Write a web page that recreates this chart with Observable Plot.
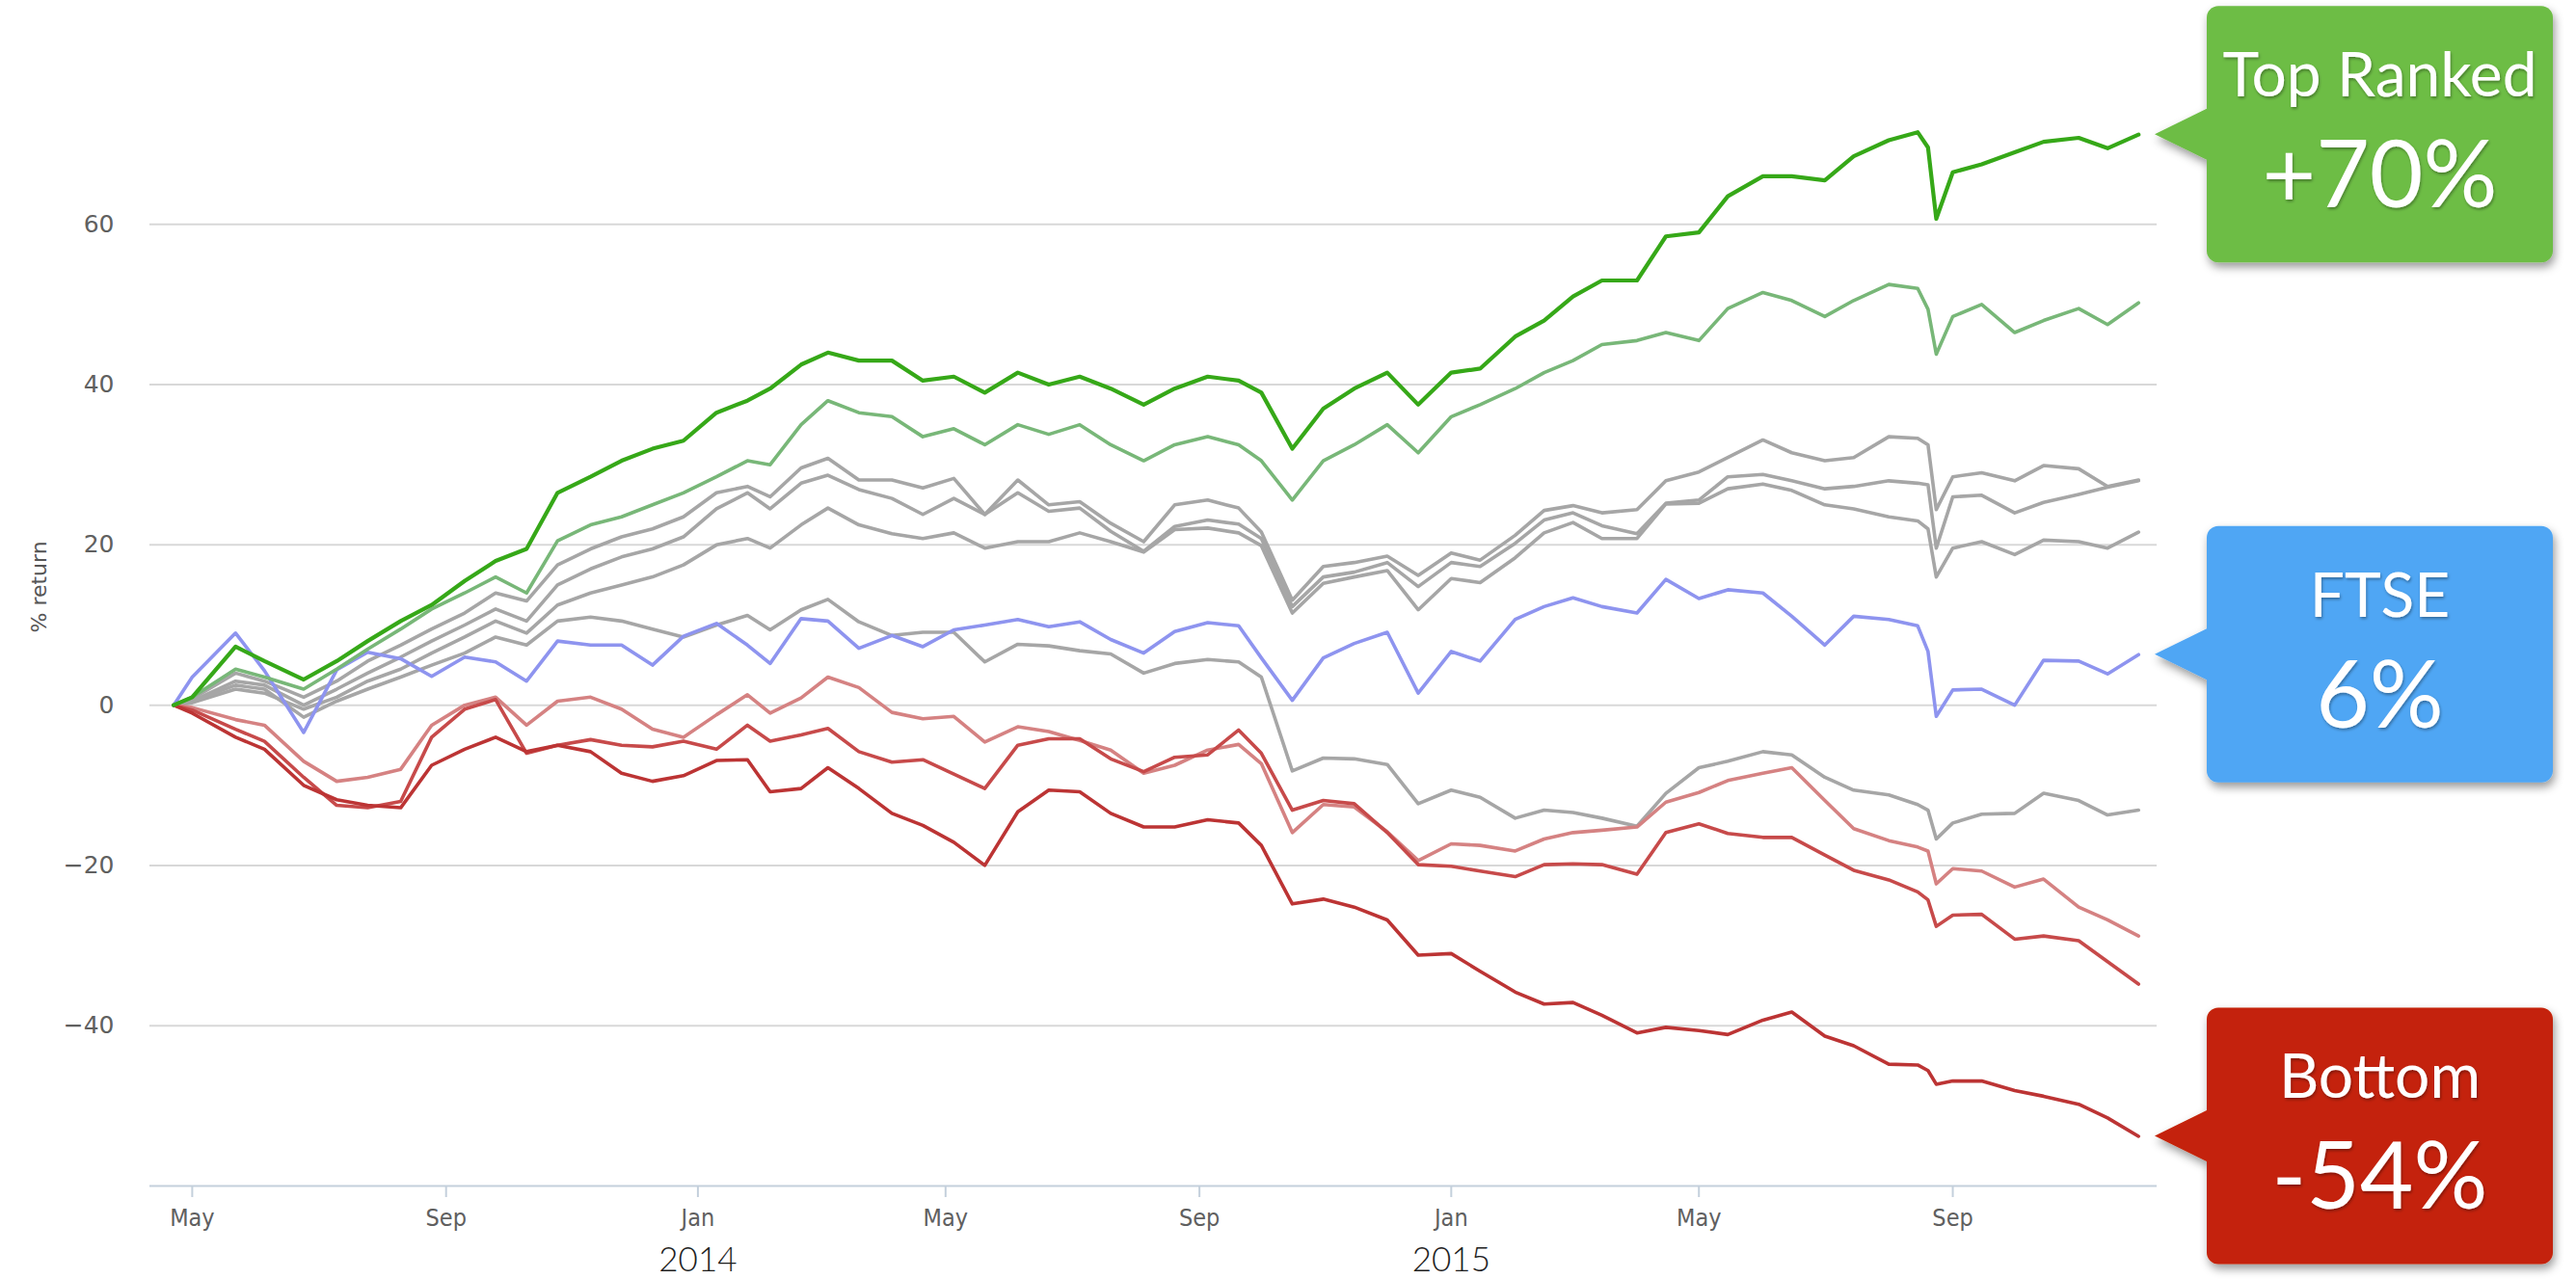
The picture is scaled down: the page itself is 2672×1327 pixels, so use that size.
<!DOCTYPE html>
<html>
<head>
<meta charset="utf-8">
<script src="https://cdn.jsdelivr.net/npm/d3@7"></script>
<script src="https://cdn.jsdelivr.net/npm/@observablehq/plot@0.6"></script>
<style>
html,body{margin:0;padding:0;background:#fff;overflow:hidden;}
#chart svg{display:block;}
</style>
</head>
<body>
<div id="chart"></div>
<script>
// ---- data ----
const dates = [
"2013-04-22","2013-05-01","2013-05-22","2013-06-05","2013-06-24","2013-07-10","2013-07-25","2013-08-10","2013-08-25","2013-09-10",
"2013-09-25","2013-10-10","2013-10-25","2013-11-10","2013-11-25","2013-12-10","2013-12-25","2014-01-10","2014-01-25","2014-02-05",
"2014-02-20","2014-03-05","2014-03-20","2014-04-05","2014-04-20","2014-05-05","2014-05-20","2014-06-05","2014-06-20","2014-07-05",
"2014-07-20","2014-08-05","2014-08-20","2014-09-05","2014-09-20","2014-10-01","2014-10-16","2014-10-31","2014-11-15","2014-12-01",
"2014-12-16","2015-01-01","2015-01-15","2015-02-01","2015-02-15","2015-03-01","2015-03-15","2015-04-01","2015-04-15","2015-05-01",
"2015-05-15","2015-06-01","2015-06-15","2015-07-01","2015-07-15","2015-08-01","2015-08-15","2015-08-20","2015-08-24","2015-09-01",
"2015-09-15","2015-10-01","2015-10-15","2015-11-01","2015-11-15","2015-11-30"];

const topRanked = [
0,1.0,7.3,5.5,3.2,5.5,8.0,10.5,12.5,15.5,
18,19.5,26.5,28.5,30.5,32,33,36.5,38,39.5,
42.5,44,43,43,40.5,41,39,41.5,40,41,
39.5,37.5,39.5,41,40.5,39,32,37,39.5,41.5,
37.5,41.5,42,46,48,51,53,53,58.5,59,
63.5,66,66,65.5,68.5,70.5,71.5,69.6,60.7,66.5,
67.5,69,70.3,70.8,69.5,71.2];

const secondGreen = [
0,1,4.5,3.5,2,4.5,7,9.5,12,14,
16,14,20.5,22.5,23.5,25,26.5,28.5,30.5,30,
35,38,36.5,36,33.5,34.5,32.5,35,33.8,35,
32.5,30.5,32.5,33.5,32.5,30.5,25.6,30.5,32.5,35,
31.5,36,37.5,39.5,41.5,43,45,45.5,46.5,45.5,
49.5,51.5,50.5,48.5,50.5,52.5,52,49.4,43.8,48.5,
50,46.5,48,49.5,47.5,50.2];

const greyA = [
0,0.8,4,3,1,3,5.5,7.5,9.5,11.5,
14,13,17.5,19.5,21,22,23.5,26.5,27.3,26,
29.6,30.8,28.1,28.1,27.1,28.3,23.8,28.1,25,25.4,
22.7,20.4,25,25.6,24.6,21.6,13.1,17.3,17.8,18.6,
16.2,19,18.1,21.2,24.3,24.9,24,24.4,28,29.1,
30.9,33.1,31.5,30.5,30.9,33.5,33.3,32.5,24.4,28.5,
29,28,29.9,29.5,27.3,28.1];

const greyB = [
0,0.5,3,2.5,0,2,4,6,8,10,
12,10.5,15,17,18.5,19.5,21,24.5,26.5,24.5,
27.7,28.7,26.9,25.8,23.8,25.8,23.8,26.5,24.2,24.6,
21.7,19.2,22.3,23.1,22.6,20.8,12.3,16,16.6,17.8,
14.8,17.8,17.3,20.2,23.1,24,22.4,21.4,25.2,25.6,
28.5,28.8,28,27,27.3,28,27.7,27.5,19.6,26,
26.2,24,25.3,26.3,27.2,28];

const greyC = [
0,0.3,2,1.5,-0.5,1,3,4.5,6.5,8.5,
10.5,9,12.5,14,15,16,17.5,20,20.8,19.6,
22.5,24.6,22.5,21.4,20.8,21.5,19.6,20.4,20.4,21.5,
20.4,19.1,21.9,22.1,21.5,19.9,11.5,15.2,16,16.8,
11.9,15.8,15.3,18.4,21.5,22.8,20.8,20.8,25.1,25.2,
27,27.6,26.8,25,24.5,23.5,23,22,16,19.6,
20.4,18.8,20.6,20.4,19.6,21.6];

const greyD = [
0,0.5,2.5,2,-1.5,0.5,2,3.5,5,6.5,
8.5,7.5,10.5,11,10.5,9.5,8.5,10,11.2,9.4,
11.9,13.2,10.4,8.7,9.1,9.1,5.4,7.6,7.4,6.8,
6.4,4,5.2,5.7,5.4,3.5,-8.2,-6.6,-6.7,-7.4,
-12.3,-10.6,-11.5,-14.1,-13.1,-13.4,-14.1,-15.1,-11,-7.8,
-7,-5.8,-6.2,-9,-10.6,-11.2,-12.4,-13.1,-16.7,-14.7,
-13.6,-13.5,-11,-11.9,-13.7,-13.1];

const ftse = [
0,3.5,9,4.3,-3.4,4.4,6.6,5.8,3.6,6,
5.4,3,8,7.5,7.5,5,8.6,10.2,7.5,5.2,
10.8,10.5,7.1,8.7,7.3,9.4,10,10.7,9.8,10.4,
8.2,6.5,9.2,10.3,9.9,5.9,0.6,5.9,7.7,9.1,
1.5,6.7,5.5,10.7,12.3,13.4,12.3,11.5,15.7,13.3,
14.4,14,11.1,7.5,11.1,10.7,9.9,6.7,-1.4,1.9,
2,0,5.6,5.5,3.9,6.3];

const redLight = [
0,-0.3,-1.8,-2.5,-7,-9.5,-9,-8,-2.5,0,
1,-2.5,0.5,1,-0.5,-3,-4,-1.2,1.3,-1,
0.9,3.5,2.2,-0.9,-1.7,-1.4,-4.6,-2.7,-3.3,-4.4,
-5.6,-8.5,-7.5,-5.6,-4.9,-7.3,-15.9,-12.4,-12.7,-15.8,
-19.4,-17.3,-17.5,-18.2,-16.7,-15.9,-15.6,-15.2,-12.1,-10.9,
-9.4,-8.5,-7.8,-11.9,-15.4,-16.9,-17.7,-18.2,-22.3,-20.4,
-20.7,-22.7,-21.7,-25.2,-26.8,-28.8];

const redMid = [
0,-0.6,-3,-4.5,-9,-12.5,-12.8,-12,-4,-0.5,
0.7,-6,-5,-4.3,-5,-5.2,-4.5,-5.5,-2.5,-4.5,
-3.7,-2.9,-5.8,-7.1,-6.8,-8.6,-10.4,-5,-4.2,-4.2,
-6.7,-8.3,-6.5,-6.2,-3.1,-6,-13.1,-11.9,-12.3,-15.9,
-19.9,-20.1,-20.7,-21.4,-19.9,-19.8,-19.9,-21.1,-15.9,-14.8,
-16,-16.5,-16.5,-18.7,-20.6,-21.8,-23.3,-24.3,-27.6,-26.2,
-26.1,-29.2,-28.8,-29.4,-32,-34.8];

const bottomRanked = [
0,-1,-4,-5.5,-10,-11.8,-12.5,-12.8,-7.5,-5.5,
-4,-5.8,-5,-5.8,-8.5,-9.5,-8.8,-6.9,-6.8,-10.8,
-10.4,-7.8,-10.4,-13.5,-15,-17.1,-20,-13.3,-10.6,-10.8,
-13.5,-15.2,-15.2,-14.3,-14.7,-17.5,-24.8,-24.2,-25.2,-26.8,
-31.2,-31,-33.2,-35.8,-37.3,-37.1,-38.7,-40.9,-40.2,-40.6,
-41.1,-39.3,-38.3,-41.3,-42.5,-44.8,-44.9,-45.6,-47.3,-46.9,
-46.9,-48.1,-48.8,-49.8,-51.5,-53.8];

const yTicks = [-40, -20, 0, 20, 40, 60];
const xTicks = ["2013-05-01","2013-09-01","2014-01-01","2014-05-01","2014-09-01","2015-01-01","2015-05-01","2015-09-01"];
const yearTicks = ["2014-01-01","2015-01-01"];
const yLabel = ["% return"];
const calloutTitles = ["Top Ranked", "FTSE", "Bottom"];
const calloutLabels = ["+70%", "6%", "-54%"];

// ---- build ----
const series = [
  {name: "greyA", values: greyA, color: "#a6a6a6", width: 3.6},
  {name: "greyB", values: greyB, color: "#a6a6a6", width: 3.6},
  {name: "greyC", values: greyC, color: "#a6a6a6", width: 3.6},
  {name: "greyD", values: greyD, color: "#a6a6a6", width: 3.6},
  {name: "redLight", values: redLight, color: "#d58282", width: 3.6},
  {name: "redMid", values: redMid, color: "#c74a4a", width: 3.6},
  {name: "bottomRanked", values: bottomRanked, color: "#bc3434", width: 3.6},
  {name: "ftse", values: ftse, color: "#8e94ef", width: 3.6},
  {name: "secondGreen", values: secondGreen, color: "#78b778", width: 3.6},
  {name: "topRanked", values: topRanked, color: "#36a818", width: 4.2}
];
const parse = s => new Date(s + "T00:00:00Z");
const rows = series.flatMap(s => s.values.map((v, i) => ({series: s.name, date: parse(dates[i]), value: v})));

const W = 2672, H = 1327, ML = 155, MR = 435, MT = 66, MB = 97;

const plot = Plot.plot({
  width: W, height: H,
  marginLeft: ML, marginRight: MR, marginTop: MT, marginBottom: MB,
  x: {type: "utc", domain: [new Date("2013-04-10T12:00:00Z"), new Date("2015-12-09T00:00:00Z")]},
  y: {domain: [-60, 80]},
  style: {background: "#fff", fontFamily: "'DejaVu Sans', sans-serif"},
  marks: [
    Plot.gridY(yTicks, {stroke: "#d8d8d8", strokeOpacity: 1, strokeWidth: 2}),
    Plot.ruleY([-60], {stroke: "#c4d0dc", strokeWidth: 2}),
    Plot.axisY(yTicks, {tickSize: 0, tickPadding: 37, fontSize: 25, fill: "#606060", label: null}),
    Plot.axisX(xTicks.map(parse), {tickSize: 12, tickPadding: 12, tickFormat: d3.utcFormat("%b"),
      stroke: "#c4d0dc", strokeWidth: 2, fill: "#606060", fontSize: 25, label: null,
      fontFamily: "'DejaVu Sans Condensed', 'Liberation Sans Narrow', 'DejaVu Sans', sans-serif"}),
    Plot.axisX(yearTicks.map(parse), {tickSize: 0, tickPadding: 64, tickFormat: d3.utcFormat("%Y"),
      fill: "#1e1e1e", fontSize: 35, fontWeight: 300, fontFamily: "Lato, 'Open Sans', sans-serif", label: null}),
    Plot.text(yLabel, {frameAnchor: "left", dx: -115, dy: 8, rotate: -90, fontSize: 22, fill: "#555", text: d => d}),
    ...series.map(s => Plot.line(rows.filter(r => r.series === s.name),
      {x: "date", y: "value", stroke: s.color, strokeWidth: s.width, strokeLinejoin: "round"}))
  ]
});
document.getElementById("chart").appendChild(plot);

// ---- callouts anchored to the last value of highlighted series ----
const calloutSeries = [topRanked, ftse, bottomRanked];
const calloutColors = ["#6dbd45", "#4fa6f4", "#c42407"];
const svg = d3.select(plot);
const yScale = plot.scale("y");
const defs = svg.append("defs");
const fb = defs.append("filter").attr("id", "boxShadow")
  .attr("x", "-20%").attr("y", "-20%").attr("width", "140%").attr("height", "150%");
fb.append("feDropShadow").attr("dx", 2).attr("dy", 5).attr("stdDeviation", 5)
  .attr("flood-color", "#000").attr("flood-opacity", 0.4);
const ft = defs.append("filter").attr("id", "txtShadow")
  .attr("x", "-10%").attr("y", "-20%").attr("width", "120%").attr("height", "150%");
ft.append("feDropShadow").attr("dx", 1).attr("dy", 2).attr("stdDeviation", 1.5)
  .attr("flood-color", "#000").attr("flood-opacity", 0.35);

const tipX = W - MR - 2;
calloutSeries.forEach((vals, i) => {
  const ty = yScale.apply(vals[vals.length - 1]);
  const bx = tipX + 54, bw = 359, bh = 266, by = ty - bh / 2;
  const g = svg.append("g");
  const shape = g.append("g").attr("filter", "url(#boxShadow)").attr("fill", calloutColors[i]);
  shape.append("rect").attr("x", bx).attr("y", by).attr("width", bw).attr("height", bh).attr("rx", 12);
  shape.append("path").attr("d", `M${tipX},${ty}L${bx + 1},${ty - 27}L${bx + 1},${ty + 27}Z`);
  const t = g.append("g").attr("fill", "#fff").attr("text-anchor", "middle")
    .attr("font-family", "Lato, 'Open Sans', sans-serif").attr("filter", "url(#txtShadow)");
  t.append("text").attr("x", bx + bw / 2).attr("y", ty - 39).attr("font-size", 64).text(calloutTitles[i]);
  t.append("text").attr("x", bx + bw / 2).attr("y", ty + 76).attr("font-size", 96).text(calloutLabels[i]);
});
</script>
</body>
</html>
